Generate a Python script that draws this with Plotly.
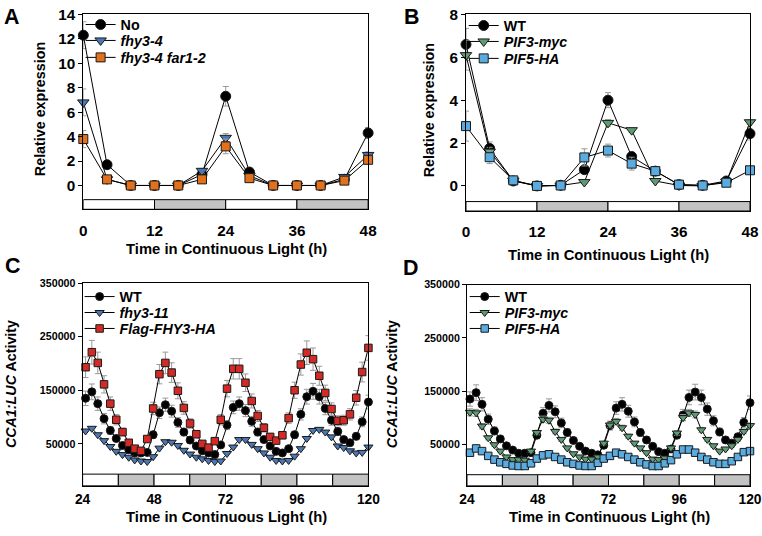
import plotly.graph_objects as go

# ------------------------------------------------------------
# data: panels A/B (qPCR, every 4 h)
# ------------------------------------------------------------
hours_ab = [0, 4, 8, 12, 16, 20, 24, 28, 32, 36, 40, 44, 48]

a_no = [12.3, 1.7, 0.0, 0.0, 0.0, 0.9, 7.3, 1.1, 0.0, 0.0, 0.0, 0.5, 4.3]
a_no_err = [1.1, 0.25, 0.05, 0.05, 0.05, 0.2, 0.8, 0.2, 0.05, 0.05, 0.05, 0.1, 0.45]
a_fhy34 = [6.8, 0.5, 0.0, 0.0, 0.0, 1.2, 3.9, 0.8, 0.0, 0.0, 0.0, 0.7, 2.5]
a_fhy34_err = [1.1, 0.1, 0.05, 0.05, 0.05, 0.2, 0.35, 0.1, 0.05, 0.05, 0.05, 0.1, 0.25]
a_far = [3.8, 0.5, 0.0, 0.0, 0.0, 0.5, 3.2, 0.6, 0.0, 0.0, 0.0, 0.4, 2.1]
a_far_err = [0.7, 0.1, 0.05, 0.05, 0.05, 0.1, 0.6, 0.1, 0.05, 0.05, 0.05, 0.1, 0.25]

b_wt = [6.6, 1.75, 0.23, 0.0, 0.03, 0.76, 4.0, 1.37, 0.69, 0.06, 0.03, 0.23, 2.44]
b_wt_err = [0.75, 0.3, 0.05, 0.02, 0.02, 0.15, 0.35, 0.2, 0.1, 0.02, 0.02, 0.05, 0.3]
b_pif3 = [6.1, 1.6, 0.25, 0.0, 0.02, 0.18, 2.94, 2.6, 0.23, 0.02, 0.0, 0.2, 2.97]
b_pif3_err = [0.7, 0.2, 0.05, 0.02, 0.02, 0.05, 0.15, 0.1, 0.05, 0.02, 0.02, 0.05, 0.1]
b_pif5 = [2.79, 1.34, 0.26, 0.0, 0.02, 1.33, 1.65, 1.04, 0.69, 0.06, 0.02, 0.15, 0.73]
b_pif5_err = [0.7, 0.3, 0.05, 0.02, 0.02, 0.4, 0.3, 0.3, 0.1, 0.02, 0.02, 0.05, 0.1]

# ------------------------------------------------------------
# data: panels C/D (luciferase imaging, ~2 h sampling)
# ------------------------------------------------------------
hours_cd = [25.0, 27.1, 29.1, 31.2, 33.3, 35.3, 37.4, 39.5, 41.5, 43.6,
            45.7, 47.7, 49.8, 51.8, 53.9, 56.0, 58.0, 60.1, 62.2, 64.2,
            66.3, 68.4, 70.4, 72.5, 74.6, 76.6, 78.7, 80.8, 82.8, 84.9,
            87.0, 89.0, 91.1, 93.2, 95.2, 97.3, 99.3, 101.4, 103.5, 105.5,
            107.6, 109.7, 111.7, 113.8, 115.9, 117.9, 120.0]

# WT control is shared by C and D (values in thousands)
luc_wt = [135, 147, 125, 97, 75, 60, 47, 39, 33, 33,
          34, 67, 108, 123, 111, 90, 72, 57, 46, 37,
          33, 30, 48, 85, 118, 125, 112, 92, 72, 58,
          46, 36, 33, 41, 67, 105, 138, 148, 138, 116,
          94, 73, 58, 52, 64, 91, 128]
luc_fhy311 = [74, 79, 67, 56, 45, 36, 30, 25, 20, 18,
              17, 26, 42, 54, 53, 47, 38, 31, 25, 22,
              19, 17, 18, 32, 44, 58, 58, 49, 41, 33,
              25, 19, 18, 19, 27, 41, 60, 75, 77, 72,
              63, 46, 43, 37, 33, 34, 44]
luc_flag = [193, 221, 201, 161, 125, 95, 72, 52, 41, 37,
            59, 116, 180, 201, 183, 149, 117, 88, 68, 50,
            43, 55, 95, 153, 190, 190, 164, 130, 102, 80,
            63, 56, 66, 98, 150, 198, 220, 208, 177, 145,
            115, 93, 94, 105, 136, 184, 229]
luc_pif3 = [110, 109, 84, 62, 49, 37, 26, 21, 21, 20,
            37, 72, 97, 95, 74, 59, 43, 32, 26, 22,
            22, 26, 52, 86, 93, 81, 65, 52, 43, 34,
            22, 21, 24, 43, 71, 100, 109, 106, 77, 59,
            47, 37, 41, 47, 59, 74, 85]
luc_pif5 = [34, 42, 37, 28, 21, 16, 13, 10, 9, 9,
            14, 23, 29, 31, 26, 21, 16, 13, 10, 9,
            9, 15, 23, 28, 34, 31, 26, 21, 16, 12,
            9, 9, 14, 20, 31, 40, 40, 34, 26, 21,
            16, 13, 13, 18, 26, 35, 37]

# light / dark bars (subjective day white, subjective night grey)
phases_ab = [(0, 12, "day"), (12, 24, "night"), (24, 36, "day"), (36, 48, "night")]
phases_cd = [(24, 36, "day"), (36, 48, "night"), (48, 60, "day"), (60, 72, "night"),
             (72, 84, "day"), (84, 96, "night"), (96, 108, "day"), (108, 120, "night")]

FONT = "Liberation Sans, Arial, sans-serif"
ERR_GREY = "#9a9a9a"
W, H = 762, 536

# the snapshot comes out slightly shrunk and inset, so target positions
# (measured on the reference, in pixels) are mapped back to layout pixels
SX, OX = 0.971, 7.6
SY, OY = 0.9866, 8.0
TOP_MIN = 5.5   # keep room above the top tick labels so they are not cut off


def lx(px):
    return (px - OX) / SX


def ly(py):
    return (py - OY) / SY


def fx(px):
    return min(max(lx(px) / W, 0), 1)


def fy(py, top=False):
    v = ly(py)
    if top:
        v = max(v, TOP_MIN)
    return min(max(1 - v / H, 0), 1)


def fs(size):
    return round(size / 0.98, 1)


fig = go.Figure()

legend_no = [0]


def add_series(x, y, name, symbol, color, size, xa, ya, legend_px, err=None, err_pct=None, scale=1):
    legend_no[0] += 1
    lid = "legend" if legend_no[0] == 1 else "legend%d" % legend_no[0]
    if err is not None:
        error_y = dict(type="data", array=err, color=ERR_GREY, thickness=1, width=3)
    elif err_pct is not None:
        error_y = dict(type="percent", value=err_pct, color=ERR_GREY, thickness=1, width=3)
    else:
        error_y = dict(visible=False)
    fig.add_trace(go.Scatter(
        x=x, y=[v * scale for v in y], name=name, mode="lines+markers",
        line=dict(color="black", width=1),
        marker=dict(symbol=symbol, color=color, size=size,
                    line=dict(color="#1a1a1a", width=1)),
        error_y=error_y, cliponaxis=False,
        xaxis=xa, yaxis=ya, legend=lid,
    ))
    # legend_px = (left, row centre) in reference pixels; one legend per row
    fig.update_layout({lid: dict(
        x=lx(legend_px[0]) / W, y=1 - (ly(legend_px[1]) - 15.5) / H,
        xanchor="left", yanchor="top",
        bgcolor="rgba(0,0,0,0)", borderwidth=0,
        font=dict(family=FONT, size=fs(14), color="black", weight="bold"),
    )})


# panel A
add_series(hours_ab, a_no, "No", "circle", "black", 10, "x", "y", (80, 23), err=a_no_err)
add_series(hours_ab, a_fhy34, "<i>fhy3-4</i>", "triangle-down", "#4a78b4", 10, "x", "y", (80, 39), err=a_fhy34_err)
add_series(hours_ab, a_far, "<i>fhy3-4 far1-2</i>", "square", "#e2711d", 9, "x", "y", (80, 56), err=a_far_err)
# panel B
add_series(hours_ab, b_wt, "WT", "circle", "black", 10, "x2", "y2", (462, 24), err=b_wt_err)
add_series(hours_ab, b_pif3, "<i>PIF3-myc</i>", "triangle-down", "#5d9c73", 10, "x2", "y2", (462, 40), err=b_pif3_err)
add_series(hours_ab, b_pif5, "<i>PIF5-HA</i>", "square", "#5aace0", 9, "x2", "y2", (462, 57), err=b_pif5_err)
# panel C
add_series(hours_cd, luc_wt, "WT", "circle", "black", 8, "x3", "y3", (79, 296), err_pct=10, scale=1000)
add_series(hours_cd, luc_fhy311, "<i>fhy3-11</i>", "triangle-down", "#4a78b4", 8, "x3", "y3", (79, 312), scale=1000)
add_series(hours_cd, luc_flag, "<i>Flag-FHY3-HA</i>", "square", "#d42a26", 7.5, "x3", "y3", (79, 328), err_pct=10, scale=1000)
# panel D
add_series(hours_cd, luc_wt, "WT", "circle", "black", 8, "x4", "y4", (463, 296), err_pct=10, scale=1000)
add_series(hours_cd, luc_pif3, "<i>PIF3-myc</i>", "triangle-down", "#5d9c73", 8, "x4", "y4", (463, 312), err_pct=6, scale=1000)
add_series(hours_cd, luc_pif5, "<i>PIF5-HA</i>", "square", "#5aace0", 7.5, "x4", "y4", (463, 328), scale=1000)

# ------------------------------------------------------------
# axes (plot boxes measured on the reference: left, right, top, bottom)
# ------------------------------------------------------------
def tfont(size):
    return dict(family=FONT, size=fs(size), color="black", weight="bold")


def xaxis(box, rng, ticks, ya, size, standoff):
    return dict(domain=[fx(box[0]), fx(box[1])], range=rng, tickvals=ticks, anchor=ya,
                showline=True, linecolor="black", linewidth=1, mirror=True,
                ticks="outside", ticklen=standoff, tickcolor="rgba(0,0,0,0)",
                tickfont=tfont(size), showgrid=False, zeroline=False,
                ticklabeloverflow="allow")


def yaxis(box, rng, ticks, xa, size):
    return dict(domain=[fy(box[3]), fy(box[2], top=True)], range=rng, tickvals=ticks, anchor=xa,
                showline=True, linecolor="black", linewidth=1, mirror=True,
                ticks="outside", ticklen=4, tickcolor="black", tickfont=tfont(size),
                tickformat="d", showgrid=False, zeroline=False, ticklabeloverflow="allow")


box_a = (82.7, 366.7, 7.3, 209.0)
box_b = (464.3, 748.3, 10.0, 210.7)
box_c = (82.0, 367.0, 283.0, 486.3)
box_d = (465.3, 749.3, 284.7, 486.3)

fig.update_layout(
    xaxis=xaxis(box_a, [0, 48], [0, 12, 24, 36, 48], "y", 15, 7),
    yaxis=yaxis(box_a, [-1.95, 14], [0, 2, 4, 6, 8, 10, 12, 14], "x", 15),
    xaxis2=xaxis(box_b, [0, 48], [0, 12, 24, 36, 48], "y2", 15, 7),
    yaxis2=yaxis(box_b, [-1.17, 8], [0, 2, 4, 6, 8], "x2", 15),
    xaxis3=xaxis(box_c, [24, 120], [24, 48, 72, 96, 120], "y3", 13.5, 1),
    yaxis3=yaxis(box_c, [-28000, 350000], [50000, 150000, 250000, 350000], "x3", 10.5),
    xaxis4=xaxis(box_d, [24, 120], [24, 48, 72, 96, 120], "y4", 13.5, 1),
    yaxis4=yaxis(box_d, [-28000, 350000], [50000, 150000, 250000, 350000], "x4", 10.5),
)

# light/dark bars along the bottom of each plot
shapes = []
for xa, ya, phases, y0, y1 in [("x", "y", phases_ab, -1.95, -1.16),
                               ("x2", "y2", phases_ab, -1.17, -0.73),
                               ("x3", "y3", phases_cd, -28000, -6500),
                               ("x4", "y4", phases_cd, -28000, -7400)]:
    for start, end, kind in phases:
        shapes.append(dict(type="rect", xref=xa, yref=ya, x0=start, x1=end, y0=y0, y1=y1,
                           fillcolor="white" if kind == "day" else "#c3c3c3",
                           line=dict(color="black", width=1), layer="below"))
fig.update_layout(shapes=shapes)


def label(text, x, y, size, angle=0):
    return dict(text=text, x=lx(x) / W, y=1 - ly(y) / H, xref="paper", yref="paper",
                xanchor="center", yanchor="middle", showarrow=False, textangle=angle,
                font=dict(family=FONT, size=fs(size), color="black"))


ann = []
for txt, x, y in [("A", 11, 16), ("B", 410, 16), ("C", 12, 266), ("D", 409, 268)]:
    ann.append(label("<b>%s</b>" % txt, x, y, 21))
for x, y in [(225, 249), (606, 255), (225, 518), (607, 518)]:
    ann.append(label("<b>Time in Continuous Light (h)</b>", x, y, 14.5))
for txt, x, y in [("Relative expression", 39, 108), ("Relative expression", 427, 110),
                  ("<i>CCA1:LUC</i> Activity", 10, 384), ("<i>CCA1:LUC</i> Activity", 390, 384)]:
    ann.append(label("<b>%s</b>" % txt, x, y, 14, -90))

fig.update_layout(
    annotations=ann,
    width=W, height=H,
    margin=dict(l=0, r=0, t=0, b=0),
    paper_bgcolor="white", plot_bgcolor="white",
    showlegend=True,
)

# drop the browser's default body margin so the figure sits at the page origin
fig.write_html("out.html", config={"displayModeBar": False},
               post_script="document.body.style.margin='0';")
